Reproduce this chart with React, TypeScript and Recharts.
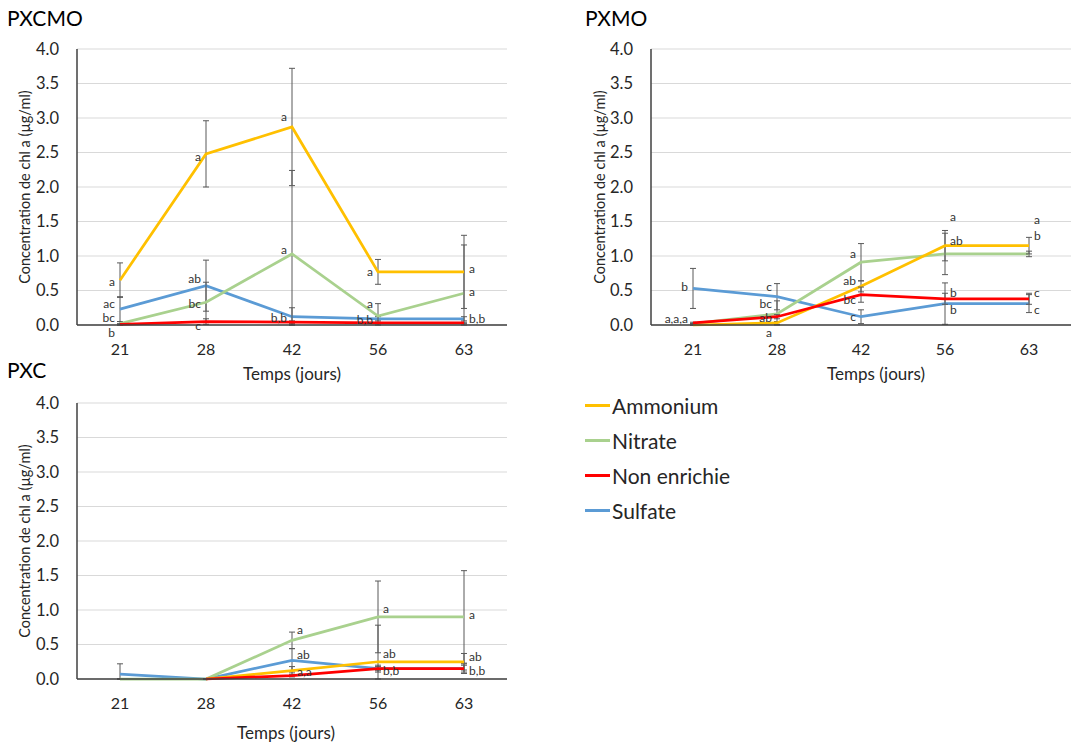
import React from 'react';
import { LineChart, Line, XAxis, YAxis, CartesianGrid, ErrorBar, LabelList, Legend } from 'recharts';

const FONT = 'Lato, "Open Sans", sans-serif';

const days = ['21', '28', '42', '56', '63'];
const yTicks = [0, 0.5, 1, 1.5, 2, 2.5, 3, 3.5, 4];
const seriesNames = ['Ammonium', 'Nitrate', 'Non enrichie', 'Sulfate'];
const seriesColors = ['#FFC000', '#A9D18E', '#FF0000', '#5B9BD5'];

// PXCMO - means, standard deviations, letters of the stats test
const pxcmoAmmonium = [0.65, 2.48, 2.87, 0.77, 0.77];
const pxcmoNitrate = [0.02, 0.33, 1.03, 0.13, 0.46];
const pxcmoNonEnrichie = [0.01, 0.05, 0.04, 0.03, 0.03];
const pxcmoSulfate = [0.23, 0.57, 0.12, 0.09, 0.09];
const pxcmoAmmoniumSd = [0.25, 0.48, 0.85, 0.18, 0.53];
const pxcmoNitrateSd = [0.03, 0.29, 1.21, 0.18, 0.7];
const pxcmoNonEnrichieSd = [0.01, 0.04, 0.02, 0.01, 0.01];
const pxcmoSulfateSd = [0.18, 0.37, 0.13, 0.03, 0.03];
const pxcmoAmmoniumLetters = ['a', 'a', 'a', 'a', 'a'];
const pxcmoNitrateLetters = ['bc', 'bc', 'a', 'a', 'a'];
const pxcmoNonEnrichieLetters = ['b', 'c', '', '', ''];
const pxcmoSulfateLetters = ['ac', 'ab', 'b,b', 'b,b', 'b,b'];

// PXMO
const pxmoAmmonium = [0.0, 0.03, 0.56, 1.15, 1.15];
const pxmoNitrate = [0.02, 0.16, 0.91, 1.03, 1.03];
const pxmoNonEnrichie = [0.03, 0.12, 0.44, 0.38, 0.38];
const pxmoSulfate = [0.53, 0.41, 0.12, 0.31, 0.31];
const pxmoAmmoniumSd = [0.0, 0.02, 0.08, 0.22, 0.12];
const pxmoNitrateSd = [0.0, 0.19, 0.27, 0.3, 0.04];
const pxmoNonEnrichieSd = [0.01, 0.03, 0.11, 0.08, 0.08];
const pxmoSulfateSd = [0.29, 0.19, 0.1, 0.3, 0.13];
const pxmoAmmoniumLetters = ['', 'a', 'ab', 'ab', 'b'];
const pxmoNitrateLetters = ['', 'bc', 'a', 'a', 'a'];
const pxmoNonEnrichieLetters = ['a,a,a', 'ab', 'bc', 'b', 'c'];
const pxmoSulfateLetters = ['b', 'c', 'c', 'b', 'c'];

// PXC
const pxcAmmonium = [null, 0.0, 0.12, 0.25, 0.25];
const pxcNitrate = [0.0, 0.0, 0.56, 0.9, 0.9];
const pxcNonEnrichie = [null, 0.0, 0.05, 0.15, 0.15];
const pxcSulfate = [0.07, 0.0, 0.27, 0.15, 0.15];
const pxcAmmoniumSd = [null, 0, 0.06, 0.53, 0.12];
const pxcNitrateSd = [0, 0, 0.12, 0.52, 0.67];
const pxcNonEnrichieSd = [null, 0, 0.02, 0.05, 0.05];
const pxcSulfateSd = [0.15, 0, 0.17, 0.03, 0.07];
const pxcAmmoniumLetters = ['', '', 'a,a', 'ab', 'ab'];
const pxcNitrateLetters = ['', '', 'a', 'a', 'a'];
const pxcNonEnrichieLetters = ['', '', '', 'b,b', 'b,b'];
const pxcSulfateLetters = ['', '', 'ab', '', ''];

// where each letter sits next to its point (l/r side, vertical nudge)
const pxcmoSides = ['llllr', 'llllr', 'llllr', 'llllr'];
const pxcmoDy = [[1, 3, -10, 0, -3], [-6, 1, -4, -13, -2], [8, 4, 0, 0, 0], [-6, -7, 1, 1, 0]];
const pxmoSides = ['lllrr', 'lllrr', 'lllrr', 'lllrr'];
const pxmoDy = [[0, 10, -6, -5, -10], [0, -10, -9, -37, -34], [-4, 1, 5, -6, -6], [-2, -10, 0, 6, 6]];
const pxcSides = ['rrrrr', 'rrrrr', 'rrrrr', 'rrrrr'];
const pxcDy = [[0, 0, 1, -8, -5], [0, 0, -11, -8, -2], [0, 0, 0, 2, 2], [0, 0, -6, 0, 0]];

const drawOrder = [3, 1, 0, 2];

type Val = number | null;

const buildRows = (means: Val[][], sds: Val[][], letters: string[][]) =>
  days.map((day, i) => {
    const row: any = { day };
    means.forEach((m, s) => {
      const v = m[i];
      const e = sds[s][i];
      row[`v${s}`] = v;
      // lower whisker stops at the axis like the original
      row[`e${s}`] = v == null || e == null ? null : [Math.min(e, v), e];
      row[`l${s}`] = letters[s][i];
    });
    return row;
  });

const letterLabel = (sides: string, dys: number[]) => (props: any) => {
  const { x, y, value, index } = props;
  if (!value || x == null || y == null) return null;
  const right = sides[index] === 'r';
  return (
    <text
      x={right ? x + 5 : x - 5}
      y={y + dys[index]}
      textAnchor={right ? 'start' : 'end'}
      dominantBaseline="central"
      fontSize={12}
      fontFamily={FONT}
      fill="#333"
    >
      {value}
    </text>
  );
};

const LegendBox = ({ payload }: any) => {
  const items = [...(payload || [])].sort(
    (a: any, b: any) => seriesNames.indexOf(a.value) - seriesNames.indexOf(b.value)
  );
  return (
    <div style={{ fontFamily: FONT, fontSize: 21, color: '#262626' }}>
      {items.map((entry: any) => (
        <div key={entry.value} style={{ display: 'flex', alignItems: 'center', height: 35 }}>
          <span style={{ display: 'inline-block', width: 25, height: 2.5, background: entry.color, marginRight: 2 }} />
          <span>{entry.value}</span>
        </div>
      ))}
    </div>
  );
};

interface PanelProps {
  rows: any[];
  sides: string[];
  dys: number[][];
  left: number;
  top: number;
  width: number;
  height: number;
  margin: { top: number; right: number; left: number; bottom: number };
  pad: number;
  legend?: boolean;
}

const Panel: React.FC<PanelProps> = ({ rows, sides, dys, left, top, width, height, margin, pad, legend }) => (
  <div style={{ position: 'absolute', left, top }}>
    <LineChart width={width} height={height} data={rows} margin={margin}>
      <CartesianGrid horizontal vertical={false} stroke="#d9d9d9" />
      <XAxis
        dataKey="day"
        padding={{ left: pad, right: pad }}
        axisLine={{ stroke: '#404040', strokeWidth: 1.5 }}
        tickLine={false}
        tickSize={0}
        tickMargin={19}
        height={30}
        tick={{ fill: '#262626', fontSize: 16, fontFamily: FONT }}
      />
      <YAxis
        type="number"
        domain={[0, 4]}
        ticks={yTicks}
        tickFormatter={(v: number) => v.toFixed(1)}
        width={60}
        axisLine={{ stroke: '#404040', strokeWidth: 1.5 }}
        tickLine={false}
        tickSize={0}
        tickMargin={18}
        tick={{ fill: '#262626', fontSize: 16.5, fontFamily: FONT }}
      />
      {drawOrder.map((s) => (
        <Line
          key={s}
          type="linear"
          dataKey={`v${s}`}
          name={seriesNames[s]}
          stroke={seriesColors[s]}
          strokeWidth={2.75}
          dot={false}
          activeDot={false}
          isAnimationActive={false}
        >
          <ErrorBar dataKey={`e${s}`} direction="y" width={3} stroke="#595959" strokeWidth={1} />
          <LabelList dataKey={`l${s}`} content={letterLabel(sides[s], dys[s])} />
        </Line>
      ))}
      {legend && (
        <Legend
          layout="vertical"
          align="center"
          verticalAlign="middle"
          content={<LegendBox />}
          wrapperStyle={{ left: 585, top: 34, width: 200 }}
        />
      )}
    </LineChart>
  </div>
);

const textStyle: React.CSSProperties = { position: 'absolute', fontFamily: FONT, color: '#262626', whiteSpace: 'nowrap' };

const Title = ({ text, x, y }: { text: string; x: number; y: number }) => (
  <div style={{ ...textStyle, left: x, top: y, fontSize: 21, color: '#000', transform: 'translateY(-50%)', lineHeight: 1 }}>{text}</div>
);

const YLabel = ({ x, y }: { x: number; y: number }) => (
  <div style={{ ...textStyle, left: x, top: y, fontSize: 14.5, lineHeight: 1, transform: 'translate(-50%, -50%) rotate(-90deg)' }}>
    Concentration de chl a (µg/ml)
  </div>
);

const XLabel = ({ x, y }: { x: number; y: number }) => (
  <div style={{ ...textStyle, left: x, top: y, fontSize: 17, lineHeight: 1, transform: 'translate(-50%, -50%)' }}>Temps (jours)</div>
);

export default function App() {
  const pxcmoRows = buildRows(
    [pxcmoAmmonium, pxcmoNitrate, pxcmoNonEnrichie, pxcmoSulfate],
    [pxcmoAmmoniumSd, pxcmoNitrateSd, pxcmoNonEnrichieSd, pxcmoSulfateSd],
    [pxcmoAmmoniumLetters, pxcmoNitrateLetters, pxcmoNonEnrichieLetters, pxcmoSulfateLetters]
  );
  const pxmoRows = buildRows(
    [pxmoAmmonium, pxmoNitrate, pxmoNonEnrichie, pxmoSulfate],
    [pxmoAmmoniumSd, pxmoNitrateSd, pxmoNonEnrichieSd, pxmoSulfateSd],
    [pxmoAmmoniumLetters, pxmoNitrateLetters, pxmoNonEnrichieLetters, pxmoSulfateLetters]
  );
  const pxcRows = buildRows(
    [pxcAmmonium, pxcNitrate, pxcNonEnrichie, pxcSulfate],
    [pxcAmmoniumSd, pxcNitrateSd, pxcNonEnrichieSd, pxcSulfateSd],
    [pxcAmmoniumLetters, pxcNitrateLetters, pxcNonEnrichieLetters, pxcSulfateLetters]
  );

  return (
    <div style={{ position: 'absolute', left: 0, top: 0, width: 1092, height: 742, background: '#fff', overflow: 'hidden' }}>
      <Panel
        rows={pxcmoRows}
        sides={pxcmoSides}
        dys={pxcmoDy}
        left={0}
        top={0}
        width={540}
        height={400}
        margin={{ top: 49, right: 33, left: 17, bottom: 45 }}
        pad={43}
      />
      <Panel
        rows={pxmoRows}
        sides={pxmoSides}
        dys={pxmoDy}
        left={540}
        top={0}
        width={552}
        height={400}
        margin={{ top: 49, right: 21, left: 51, bottom: 45 }}
        pad={42}
      />
      <Panel
        rows={pxcRows}
        sides={pxcSides}
        dys={pxcDy}
        left={0}
        top={354}
        width={760}
        height={388}
        margin={{ top: 49, right: 253, left: 17, bottom: 33 }}
        pad={43}
        legend
      />
      <Title text="PXCMO" x={7} y={17} />
      <Title text="PXMO" x={585} y={17} />
      <Title text="PXC" x={7} y={369} />
      <YLabel x={25} y={187} />
      <YLabel x={600} y={187} />
      <YLabel x={25} y={541} />
      <XLabel x={292} y={373} />
      <XLabel x={876} y={373} />
      <XLabel x={286} y={732} />
    </div>
  );
}
